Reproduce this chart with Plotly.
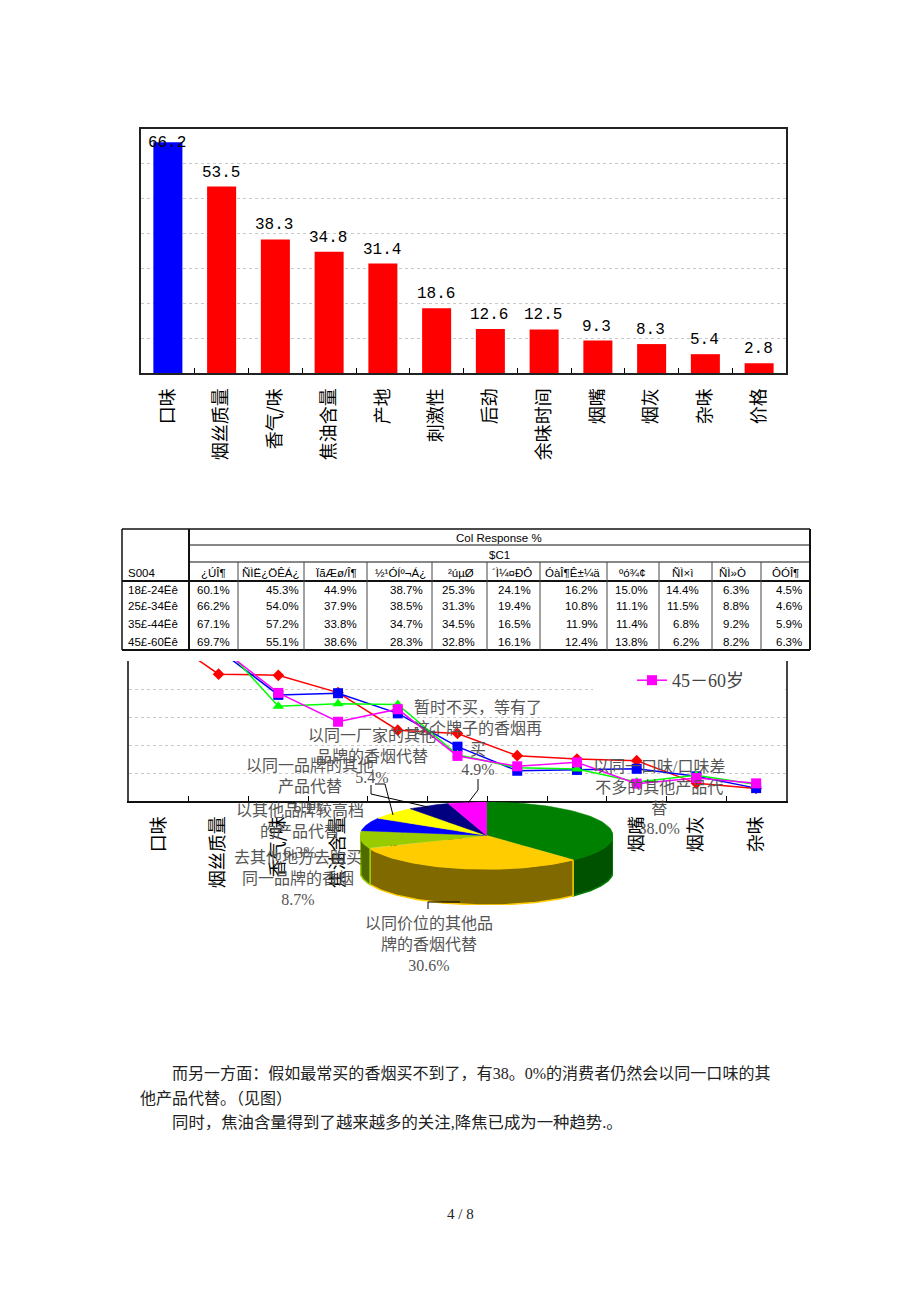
import numpy as np
import plotly.graph_objects as go

W, H = 920, 1302

# ---------- data ----------
bar_categories = ["口味", "烟丝质量", "香气/味", "焦油含量", "产地", "刺激性", "后劲", "余味时间", "烟嘴", "烟灰", "杂味", "价格"]
bar_values = [66.2, 53.5, 38.3, 34.8, 31.4, 18.6, 12.6, 12.5, 9.3, 8.3, 5.4, 2.8]

line_categories = ["口味", "烟丝质量", "香气/味", "焦油含量", "产地", "刺激性", "后劲", "余味时间", "烟嘴", "烟灰", "杂味"]
age_18_24 = [60.1, 45.3, 44.9, 38.7, 25.3, 24.1, 16.2, 15.0, 14.4, 6.3, 4.5]
age_25_34 = [66.2, 54.0, 37.9, 38.5, 31.3, 19.4, 10.8, 11.1, 11.5, 8.8, 4.6]
age_35_44 = [67.1, 57.2, 33.8, 34.7, 34.5, 16.5, 11.9, 11.4, 6.8, 9.2, 5.9]
age_45_60 = [69.7, 55.1, 38.6, 28.3, 32.8, 16.1, 12.4, 13.8, 6.2, 8.2, 6.3]

table_title = "Col Response %"
table_sub = "$C1"
table_corner = "S004"
table_headers = ["¿ÚÎ¶", "ÑÌË¿ÖÊÁ¿", "ÏãÆø/Î¶", "½¹ÓÍº¬Á¿", "²úµØ", "´Ì¼¤ÐÔ", "ÓàÎ¶Ê±¼ä", "ºó¾¢", "ÑÌ×ì", "ÑÌ»Ò", "ÔÓÎ¶"]
table_rows = ["18£-24Ëê", "25£-34Ëê", "35£-44Ëê", "45£-60Ëê"]

pie_values = [38.0, 30.6, 8.7, 6.3, 6.1, 5.4, 4.9]
pie_labels = [
    "以同一口味/口味差<br>不多的其他产品代<br>替<br>38.0%",
    "以同价位的其他品<br>牌的香烟代替<br>30.6%",
    "去其他地方去购买<br>同一品牌的香烟<br>8.7%",
    "以其他品牌较高档<br>的产品代替<br>6.3%",
    "以同一品牌的其他<br>产品代替<br>6.1%",
    "以同一厂家的其他<br>品牌的香烟代替<br>5.4%",
    "暂时不买，等有了<br>这个牌子的香烟再<br>买<br>4.9%",
]
body_lines = [
    "而另一方面：假如最常买的香烟买不到了，有38。0%的消费者仍然会以同一口味的其",
    "他产品代替。（见图）",
    "同时，焦油含量得到了越来越多的关注,降焦已成为一种趋势.。",
]
page_label = "4 / 8"

# ---------- layout helpers (page pixels) ----------
px = lambda x: x / W
py = lambda y: 1 - y / H
CJK = "Noto Sans CJK SC"
SERIF = f"Liberation Serif, {CJK}"
MONO = f"Liberation Mono, {CJK}"
SANS = "Liberation Sans, Arial"

shapes, annos = [], []


def seg(x0, y0, x1, y1, color="#000", width=1):
    shapes.append(dict(type="line", xref="paper", yref="paper", x0=px(x0), y0=py(y0), x1=px(x1), y1=py(y1),
                       line=dict(color=color, width=width), layer="above"))


def text(x, y, s, size, family, color="#000", anchor="center"):
    annos.append(dict(xref="paper", yref="paper", x=px(x), y=py(y), text=s, showarrow=False, xanchor=anchor,
                      yanchor="middle", align="center", font=dict(size=size, family=family, color=color),
                      borderpad=0, borderwidth=0))


fig = go.Figure()

# ---------- bar chart ----------
bar_colors = ["#0000FF"] + ["#FF0000"] * (len(bar_values) - 1)
fig.add_trace(go.Bar(x=bar_categories, y=bar_values, marker=dict(color=bar_colors, line=dict(width=0)),
                     width=0.54, xaxis="x", yaxis="y", showlegend=False))
for i, (c, v) in enumerate(zip(bar_categories, bar_values)):
    annos.append(dict(xref="x", yref="y", x=c, y=v, text=f"{v:.1f}", showarrow=False, xanchor="center",
                      yanchor="middle", yshift=14 if i else -1, xshift=-1,
                      font=dict(size=16, family=MONO, color="#000")))

# ---------- line chart ----------
series = [
    ("18－24岁", age_18_24, "#FF0000", "diamond", 9),
    ("25－34岁", age_25_34, "#0000FF", "square", 10),
    ("35－44岁", age_35_44, "#00FF00", "triangle-up", 10),
    ("45－60岁", age_45_60, "#FF00FF", "square", 10),
]
for name, vals, col, sym, size in series:
    fig.add_trace(go.Scatter(x=line_categories, y=vals, mode="lines+markers", name=name,
                             line=dict(color=col, width=1.5), marker=dict(color=col, symbol=sym, size=size),
                             xaxis="x2", yaxis="y2", showlegend=name == "45－60岁"))

# ---------- 3-D pie, slices computed from its values ----------
DEPTH = 1.08  # side height in units of the vertical radius
edges = np.concatenate([[0], np.cumsum(pie_values)]) / np.sum(pie_values) * 360
top_colors = ["#008000", "#FFCC00", "#99CC00", "#0000FF", "#FFFF00", "#000080", "#FF00FF"]
side_fill = ["#005200", "#806A00", "#4F6B00", "#000080", "#808000", "#000040", "#800080"]
for a0, a1, fc, lc in zip(edges[:-1], edges[1:], side_fill, top_colors):
    lo, hi = max(a0, 90), min(a1, 270)
    if lo >= hi:
        continue
    t = np.radians(np.linspace(lo, hi, 60))
    xs = np.concatenate([np.sin(t), np.sin(t[::-1])])
    ys = np.concatenate([np.cos(t), np.cos(t[::-1]) - DEPTH])
    fig.add_trace(go.Scatter(x=np.append(xs, xs[0]), y=np.append(ys, ys[0]), mode="lines", fill="toself",
                             fillcolor=fc, line=dict(color=lc, width=1.5), xaxis="x3", yaxis="y3",
                             showlegend=False, hoverinfo="skip"))
for a0, a1, col in zip(edges[:-1], edges[1:], top_colors):
    t = np.radians(np.linspace(a0, a1, 60))
    xs = np.concatenate([[0], np.sin(t), [0]])
    ys = np.concatenate([[0], np.cos(t), [0]])
    fig.add_trace(go.Scatter(x=xs, y=ys, mode="lines", fill="toself", fillcolor=col,
                             line=dict(color=col, width=0.5), xaxis="x3", yaxis="y3",
                             showlegend=False, hoverinfo="skip"))

# white box behind the legend
shapes.append(dict(type="rect", xref="paper", yref="paper", x0=px(593), x1=px(785), y0=py(660), y1=py(702),
                   fillcolor="#FFFFFF", line=dict(width=0), layer="above"))

# leader lines
for path in [
    [(371, 785), (371, 794), (428, 807)],
    [(375, 784), (385, 784), (393, 815)],
    [(478, 779), (478, 790), (468, 803)],
    [(428, 909), (428, 902), (460, 902)],
]:
    for (a, b), (c, d) in zip(path[:-1], path[1:]):
        seg(a, b, c, d, "#000", 1)

# pie labels
label_pos = [(659, 797), (429, 944), (298, 878), (300, 831), (310, 786), (372, 756), (478, 738)]
for (x, y), s in zip(label_pos, pie_labels):
    text(x, y, s, 16, SERIF, "#555555")

# ---------- table ----------
L, T, B, R = 122, 529, 650, 810
col_edges = [189, 238, 304, 367, 432, 487, 540, 607, 659, 712, 761, 809]
head_x = [213, 271, 336, 400, 461, 512, 572, 632, 682, 732, 785]
value_right = [230, 299, 357, 423, 475, 531, 598, 648, 699, 749, 802]
row_y = [590, 606, 624, 642]
for a, b, c, d, w in [
    (L, T, R, T, 1.5), (L, B, R, B, 2), (L, T, L, B, 1.5), (R, T, R, B, 2),
    (189, T, 189, B, 2), (189, 545, R, 545, 1), (189, 562, R, 562, 1), (L, 581, R, 581, 2),
]:
    seg(a, b, c, d, "#111", w)
for e in col_edges[1:-1]:
    seg(e, 562, e, B, "#444", 1)
text(499, 538, table_title, 11.5, SANS)
text(499, 555, table_sub, 11.5, SANS)
text(128, 573, table_corner, 11.5, SANS, anchor="left")
for x, h in zip(head_x, table_headers):
    text(x, 573, h, 11.5, SANS)
for y, r, series_vals in zip(row_y, table_rows, [age_18_24, age_25_34, age_35_44, age_45_60]):
    text(128, y, r, 11.5, SANS, anchor="left")
    for x, v in zip(value_right, series_vals):
        text(x, y, f"{v:.1f}%", 11.5, SANS, anchor="right")

# ---------- body text ----------
text(172, 1073, body_lines[0], 16.05, f"Liberation Serif, {CJK}", "#222", anchor="left")
text(140, 1098, body_lines[1], 16, f"Liberation Serif, {CJK}", "#222", anchor="left")
text(172, 1122, body_lines[2], 16.4, f"Liberation Serif, {CJK}", "#222", anchor="left")
text(460, 1214, page_label, 15, "Liberation Serif", "#222")

grid = dict(showgrid=True, gridcolor="#C8C8C8", griddash="dot", gridwidth=1, zeroline=False, showticklabels=False,
            ticks="", dtick=10)
cat_font = dict(size=18, family=CJK, color="#000")
fig.update_layout(
    width=W, height=H, margin=dict(l=0, r=0, t=0, b=0, autoexpand=False),
    paper_bgcolor="#FFFFFF", plot_bgcolor="rgba(0,0,0,0)", bargap=0.46,
    showlegend=True,
    legend=dict(x=px(632), y=py(662), xanchor="left", yanchor="top", bgcolor="rgba(0,0,0,0)",
                font=dict(size=18, family=SERIF, color="#444444"), itemwidth=30),
    shapes=shapes, annotations=annos,
    xaxis=dict(domain=[px(141), px(786)], anchor="y", type="category", categoryorder="array",
               categoryarray=bar_categories, range=[-0.5, 11.5], tickson="boundaries", ticks="inside", ticklen=5,
               tickcolor="#000", tickangle=-90, tickfont=cat_font, ticklabelstandoff=6, showgrid=False, showline=True,
               linecolor="#222", linewidth=2, mirror=True, zeroline=False, automargin=False, fixedrange=True),
    yaxis=dict(domain=[py(373), py(129)], anchor="x", range=[0, 70], showline=True, linecolor="#222", linewidth=1.5,
               mirror=True, automargin=False, fixedrange=True, **grid),
    xaxis2=dict(domain=[px(129), px(786)], anchor="y2", type="category", categoryorder="array",
                categoryarray=line_categories, range=[-0.5, 10.5], tickson="boundaries", ticks="inside", ticklen=5,
                tickcolor="#000", tickangle=-90, tickfont=cat_font, ticklabelstandoff=6, showgrid=False, showline=True,
                linecolor="#111", linewidth=2, zeroline=False, automargin=False, fixedrange=True),
    yaxis2=dict(domain=[py(801), py(661)], anchor="x2", range=[0, 50], showline=True, linecolor="#444", linewidth=1.5,
                mirror=True, automargin=False, fixedrange=True, **grid),
    xaxis3=dict(domain=[px(360), px(613)], anchor="y3", range=[-1, 1], visible=False, fixedrange=True),
    yaxis3=dict(domain=[py(905), py(802)], anchor="x3", range=[-1 - DEPTH, 1], visible=False, fixedrange=True),
)
fig.write_html("out.html", config=dict(displayModeBar=False),
               post_script="document.body.style.margin='0';document.documentElement.style.overflow='hidden';")
